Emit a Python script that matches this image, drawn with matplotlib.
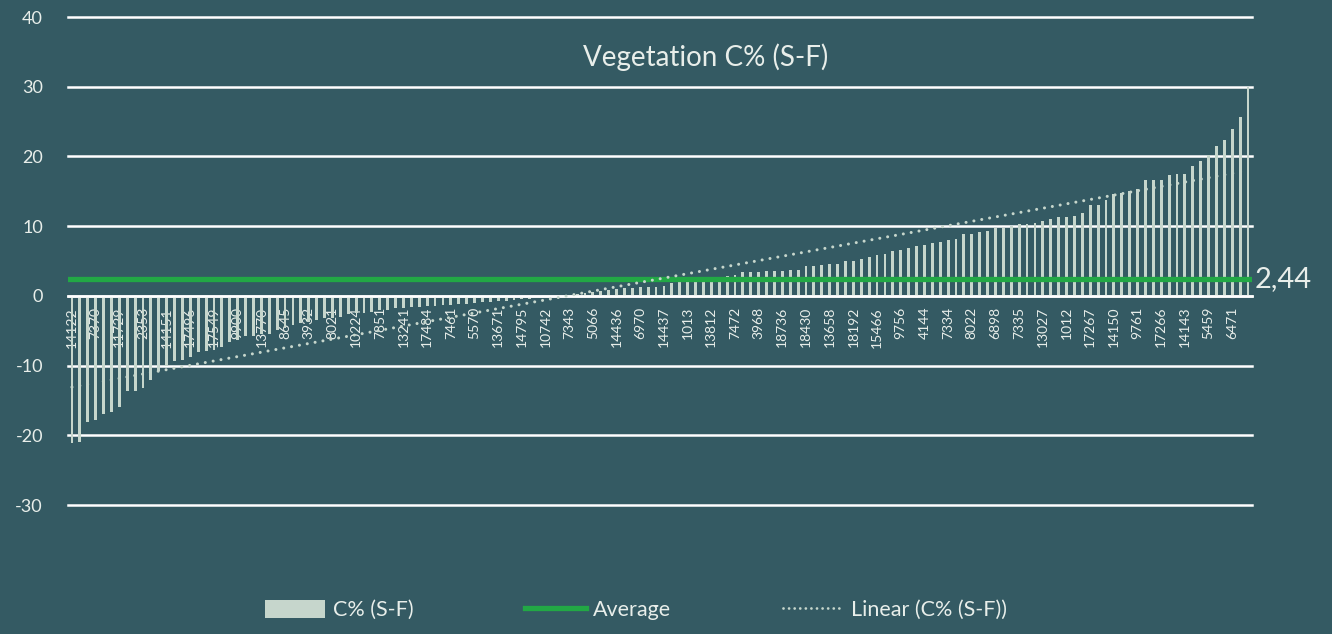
import matplotlib.pyplot as plt
import matplotlib.patches as patches
from matplotlib.lines import Line2D
import numpy as np

plt.rcParams['font.family'] = ['Lato', 'DejaVu Sans']
plt.rcParams['axes.unicode_minus'] = False

# C% (S-F) per sample, sorted ascending
values = [
    -21.05, -20.9, -18.1, -17.8, -16.9, -16.6, -15.9, -13.7, -13.6, -13.2,
    -12.0, -10.8, -10.0, -9.4, -9.2, -8.7, -8.1, -7.9, -7.75, -7.4,
    -6.6, -6.3, -5.8, -5.7, -5.5, -5.4, -4.9, -4.6, -4.2, -3.9,
    -3.7, -3.5, -3.2, -3.2, -3.0, -2.6, -2.5, -2.4, -2.25, -2.1,
    -2.0, -1.8, -1.8, -1.6, -1.6, -1.5, -1.45, -1.3, -1.3, -1.15,
    -1.1, -1.0, -0.9, -0.85, -0.8, -0.7, -0.6, -0.5, -0.4, -0.3,
    -0.2, -0.1, 0.02, 0.1, 0.2, 0.4, 0.6, 0.75, 0.9, 1.0,
    1.1, 1.1, 1.2, 1.3, 1.34, 1.48, 1.9, 2.2, 2.3, 2.4,
    2.5, 2.55, 2.6, 2.9, 3.0, 3.45, 3.45, 3.45, 3.55, 3.55,
    3.6, 3.7, 3.75, 4.25, 4.3, 4.45, 4.55, 4.6, 5.0, 5.05,
    5.3, 5.6, 5.85, 6.05, 6.4, 6.55, 6.9, 7.15, 7.25, 7.65,
    7.7, 8.0, 8.2, 8.85, 8.9, 9.2, 9.3, 9.8, 9.8, 10.05,
    10.3, 10.3, 10.45, 10.7, 11.0, 11.25, 11.3, 11.4, 11.9, 13.1,
    13.1, 13.75, 14.55, 14.8, 15.1, 15.3, 16.55, 16.6, 16.6, 17.35,
    17.45, 17.55, 18.65, 19.3, 20.25, 21.45, 22.3, 23.95, 25.7, 30.0,
]

# every third sample ID is printed on the axis
tick_labels = [
    '14122', '7370', '11729', '2353', '14151', '17496', '17549', '9900', '13770', '8645',
    '3932', '8021', '10224', '7851', '13241', '17484', '7461', '5570', '13671', '14795',
    '10742', '7343', '5066', '14436', '6970', '14437', '1013', '13812', '7472', '3968',
    '18736', '18430', '13658', '18192', '15466', '9756', '4144', '7334', '8022', '6898',
    '7335', '13027', '1012', '17267', '14150', '9761', '17266', '14143', '5459', '6471',
]
tick_step = 3

average = 2.44

bg = '#345A63'
bar_color = '#C6D6CC'
green = '#22A845'
text_color = '#E8EEEA'

fig = plt.figure(figsize=(13.32, 6.34), dpi=100)
fig.patch.set_facecolor(bg)
ax = fig.add_axes([68 / 1332, 129 / 634, 1184 / 1332, 488 / 634])
ax.set_facecolor(bg)

x = np.arange(len(values))
ax.bar(x, values, width=0.36, color=bar_color, zorder=2)

# average line + label
ax.axhline(average, color=green, lw=3.8, zorder=3)
ax.text(1.002, average, f"{average:.2f}".replace('.', ','), transform=ax.get_yaxis_transform(),
        ha='left', va='center', fontsize=21, color=text_color, clip_on=False)

# linear trend of the series
coef = np.polyfit(x, values, 1)
ax.plot(x, np.polyval(coef, x), color=bar_color, lw=2.2, linestyle=(0, (0.01, 2.6)),
        dash_capstyle='round', zorder=4)

ax.set_xlim(-0.5, len(values) - 0.5)
ax.set_ylim(-30, 40)
ax.set_yticks(range(-30, 41, 10))
ax.grid(axis='y', color='white', lw=1.8, zorder=1)
for gl in ax.get_ygridlines():
    gl.set_clip_on(False)
ax.set_axisbelow(True)

for s in ['top', 'right', 'left']:
    ax.spines[s].set_visible(False)
ax.spines['bottom'].set_position(('data', 0))
ax.spines['bottom'].set_color('white')
ax.spines['bottom'].set_linewidth(1.8)

ax.set_xticks(x[::tick_step])
ax.set_xticklabels(tick_labels, rotation=90, fontsize=10, color=text_color)
ax.tick_params(axis='x', length=0, pad=8)
ax.tick_params(axis='y', length=0, pad=18, labelsize=13, labelcolor=text_color)

fig.text(706 / 1332, 1 - 57 / 634, 'Vegetation C% (S-F)', ha='center', va='center',
         fontsize=20, color=text_color)

handles = [
    patches.Patch(facecolor=bar_color, edgecolor='none'),
    Line2D([], [], color=green, lw=3.8),
    Line2D([], [], color=bar_color, lw=2.0, linestyle=(0, (0.01, 2.0)), dash_capstyle='round'),
]
fig.legend(handles, ['C% (S-F)', 'Average', 'Linear (C% (S-F))'], loc='center',
           bbox_to_anchor=(636 / 1332, 1 - 610 / 634), ncol=3, frameon=False,
           fontsize=15.5, labelcolor=text_color, handlelength=2.8, handleheight=0.9,
           handletextpad=0.35, columnspacing=5.2)

fig.savefig('out.png', dpi=100, facecolor=bg)
